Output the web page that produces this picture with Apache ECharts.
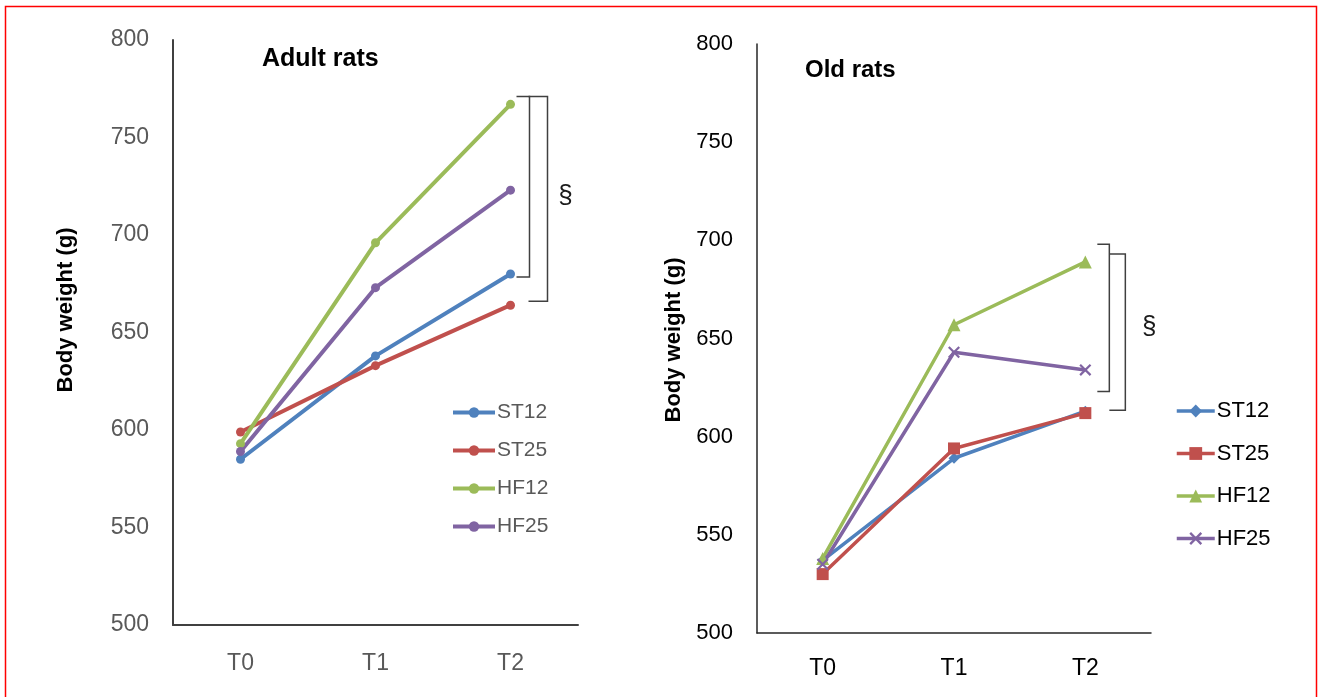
<!DOCTYPE html>
<html>
<head>
<meta charset="utf-8">
<script src="https://cdn.jsdelivr.net/npm/echarts@6/dist/echarts.min.js"></script>
<style>
  html, body { margin: 0; padding: 0; background: #fff; }
  #chart { width: 1321px; height: 697px; }
</style>
</head>
<body>
<div id="chart"></div>
<script>
// Time points and group names
const timePoints = ['T0', 'T1', 'T2'];
const groups = ['ST12', 'ST25', 'HF12', 'HF25'];
const yTicks = [500, 550, 600, 650, 700, 750, 800];

// Body weight (g), adult rats
const adultST12 = [585, 638, 680];
const adultST25 = [599, 633, 664];
const adultHF12 = [593, 696, 767];
const adultHF25 = [589, 673, 723];

// Body weight (g), old rats
const oldST12 = [537, 589, 613];
const oldST25 = [530, 594, 612];
const oldHF12 = [538, 657, 689];
const oldHF25 = [535, 643, 634];

// Significance brackets at T2: [time point, upper weight, lower weight]
const adultBrackets = [['T2', 771, 678.5], ['T2', 771, 666]];
const oldBrackets = [['T2', 698, 623], ['T2', 693, 613.5]];
// Section-sign markers: [time point, weight]
const adultMark = [['T2', 720]];
const oldMark = [['T2', 656]];

const colors = ['#4F81BD', '#C0504D', '#9BBB59', '#8064A2'];
const FONT = '"Liberation Sans", Arial, sans-serif';
const crossPath = 'path://M0,1.3L1.3,0L10,8.7L8.7,10Z M8.7,0L10,1.3L1.3,10L0,8.7Z';

const chart = echarts.init(document.getElementById('chart'), null, { renderer: 'canvas' });

function lineSeries(name, data, idx, color, opts) {
  return Object.assign({
    name: name,
    type: 'line',
    data: data,
    xAxisIndex: idx,
    yAxisIndex: idx,
    symbol: 'circle',
    symbolSize: 9,
    itemStyle: { color: color },
    lineStyle: { color: color, width: 4 },
    emphasis: { disabled: true },
    z: 3
  }, opts || {});
}

// Bracket "]" drawn from the axis coordinates of its two weights
function bracketSeries(idx, spans, geom) {
  return {
    type: 'custom',
    xAxisIndex: idx,
    yAxisIndex: idx,
    clip: false,
    silent: true,
    data: spans.map(s => [timePoints.indexOf(s[0]), s[1], s[2]]),
    encode: { x: 0, y: [1, 2] },
    renderItem: function (params, api) {
      const g = geom[params.dataIndex];
      const top = api.coord([api.value(0), api.value(1)]);
      const bot = api.coord([api.value(0), api.value(2)]);
      const x0 = top[0] + g.tick;
      const x1 = top[0] + g.spine;
      return {
        type: 'polyline',
        shape: { points: [[x0, top[1]], [x1, top[1]], [x1, bot[1]], [x0, bot[1]]] },
        style: { stroke: '#404040', lineWidth: 1.5, fill: null }
      };
    }
  };
}

function markSeries(idx, marks, dx, fontSize) {
  return {
    type: 'custom',
    xAxisIndex: idx,
    yAxisIndex: idx,
    clip: false,
    silent: true,
    data: marks.map(m => [timePoints.indexOf(m[0]), m[1]]),
    encode: { x: 0, y: 1 },
    renderItem: function (params, api) {
      const p = api.coord([api.value(0), api.value(1)]);
      return {
        type: 'text',
        x: p[0] + dx,
        y: p[1],
        style: {
          text: '§', fill: '#1a1a1a', font: fontSize + 'px ' + FONT,
          textAlign: 'center', textVerticalAlign: 'middle'
        }
      };
    }
  };
}

function yAxisCfg(idx, labelColor, labelSize, axisColor, axisWidth) {
  return {
    type: 'value',
    gridIndex: idx,
    min: yTicks[0],
    max: yTicks[yTicks.length - 1],
    interval: yTicks[1] - yTicks[0],
    splitLine: { show: false },
    axisTick: { show: false },
    axisLine: { show: true, lineStyle: { color: axisColor, width: axisWidth } },
    axisLabel: { color: labelColor, fontSize: labelSize, fontFamily: FONT, margin: 24 }
  };
}

function xAxisCfg(idx, labelColor, labelSize, axisColor, axisWidth, margin) {
  return {
    type: 'category',
    gridIndex: idx,
    data: timePoints,
    boundaryGap: true,
    axisTick: { show: false },
    axisLine: { show: true, lineStyle: { color: axisColor, width: axisWidth } },
    axisLabel: { color: labelColor, fontSize: labelSize, fontFamily: FONT, margin: margin }
  };
}

const option = {
  animation: false,
  backgroundColor: '#ffffff',
  grid: [
    { left: 173, top: 40, width: 405, height: 585 },
    { left: 757, top: 44, width: 394, height: 589 }
  ],
  xAxis: [
    xAxisCfg(0, '#595959', 23, '#404040', 2, 27),
    xAxisCfg(1, '#000000', 23, '#262626', 1.5, 24)
  ],
  yAxis: [
    yAxisCfg(0, '#595959', 23, '#404040', 2),
    yAxisCfg(1, '#000000', 22, '#262626', 1.5)
  ],
  title: [
    { text: 'Adult rats', left: 262, top: 47, padding: 0,
      textStyle: { fontSize: 25, fontWeight: 'bold', color: '#000', fontFamily: FONT } },
    { text: 'Old rats', left: 805, top: 58, padding: 0,
      textStyle: { fontSize: 24, fontWeight: 'bold', color: '#000', fontFamily: FONT } }
  ],
  legend: [
    {
      data: groups.map(g => ({ name: g })),
      orient: 'vertical', left: 451, top: 402, padding: 0,
      itemWidth: 42, itemHeight: 13, itemGap: 17,
      lineStyle: { width: 4 },
      textStyle: { color: '#595959', fontSize: 21, fontFamily: FONT, padding: [0, 0, 0, -3] },
      selectedMode: false
    },
    {
      data: groups.map(g => ({ name: g + ' ' })),
      formatter: n => n.trim(),
      orient: 'vertical', left: 1175, top: 400, padding: 0,
      itemWidth: 38, itemHeight: 16, itemGap: 20.5,
      lineStyle: { width: 3.5 },
      textStyle: { color: '#000', fontSize: 22, fontFamily: FONT, padding: [0, 0, 0, -3] },
      selectedMode: false
    }
  ],
  graphic: [
    { type: 'rect', shape: { x: 5.5, y: 6.5, width: 1311, height: 720 },
      style: { fill: null, stroke: '#ff0000', lineWidth: 1.5 }, silent: true },
    { type: 'text', x: 66, y: 310, rotation: Math.PI / 2,
      style: { text: 'Body weight (g)', font: 'bold 22px ' + FONT, fill: '#000',
               textAlign: 'center', textVerticalAlign: 'middle' } },
    { type: 'text', x: 674, y: 340, rotation: Math.PI / 2,
      style: { text: 'Body weight (g)', font: 'bold 22px ' + FONT, fill: '#000',
               textAlign: 'center', textVerticalAlign: 'middle' } }
  ],
  series: [
    lineSeries('ST12', adultST12, 0, colors[0]),
    lineSeries('ST25', adultST25, 0, colors[1]),
    lineSeries('HF12', adultHF12, 0, colors[2]),
    lineSeries('HF25', adultHF25, 0, colors[3]),
    lineSeries('ST12 ', oldST12, 1, colors[0], { symbol: 'diamond', symbolSize: 11, lineStyle: { color: colors[0], width: 3.5 } }),
    lineSeries('ST25 ', oldST25, 1, colors[1], { symbol: 'rect', symbolSize: 12, lineStyle: { color: colors[1], width: 3.5 } }),
    lineSeries('HF12 ', oldHF12, 1, colors[2], { symbol: 'triangle', symbolSize: 13, lineStyle: { color: colors[2], width: 3.5 } }),
    lineSeries('HF25 ', oldHF25, 1, colors[3], { symbol: crossPath, symbolSize: 12, lineStyle: { color: colors[3], width: 3.5 } }),
    bracketSeries(0, adultBrackets, [{ tick: 6, spine: 19 }, { tick: 18, spine: 37 }]),
    bracketSeries(1, oldBrackets, [{ tick: 12, spine: 24 }, { tick: 24, spine: 40 }]),
    markSeries(0, adultMark, 55, 26),
    markSeries(1, oldMark, 64, 26)
  ]
};

chart.setOption(option);
</script>
</body>
</html>
